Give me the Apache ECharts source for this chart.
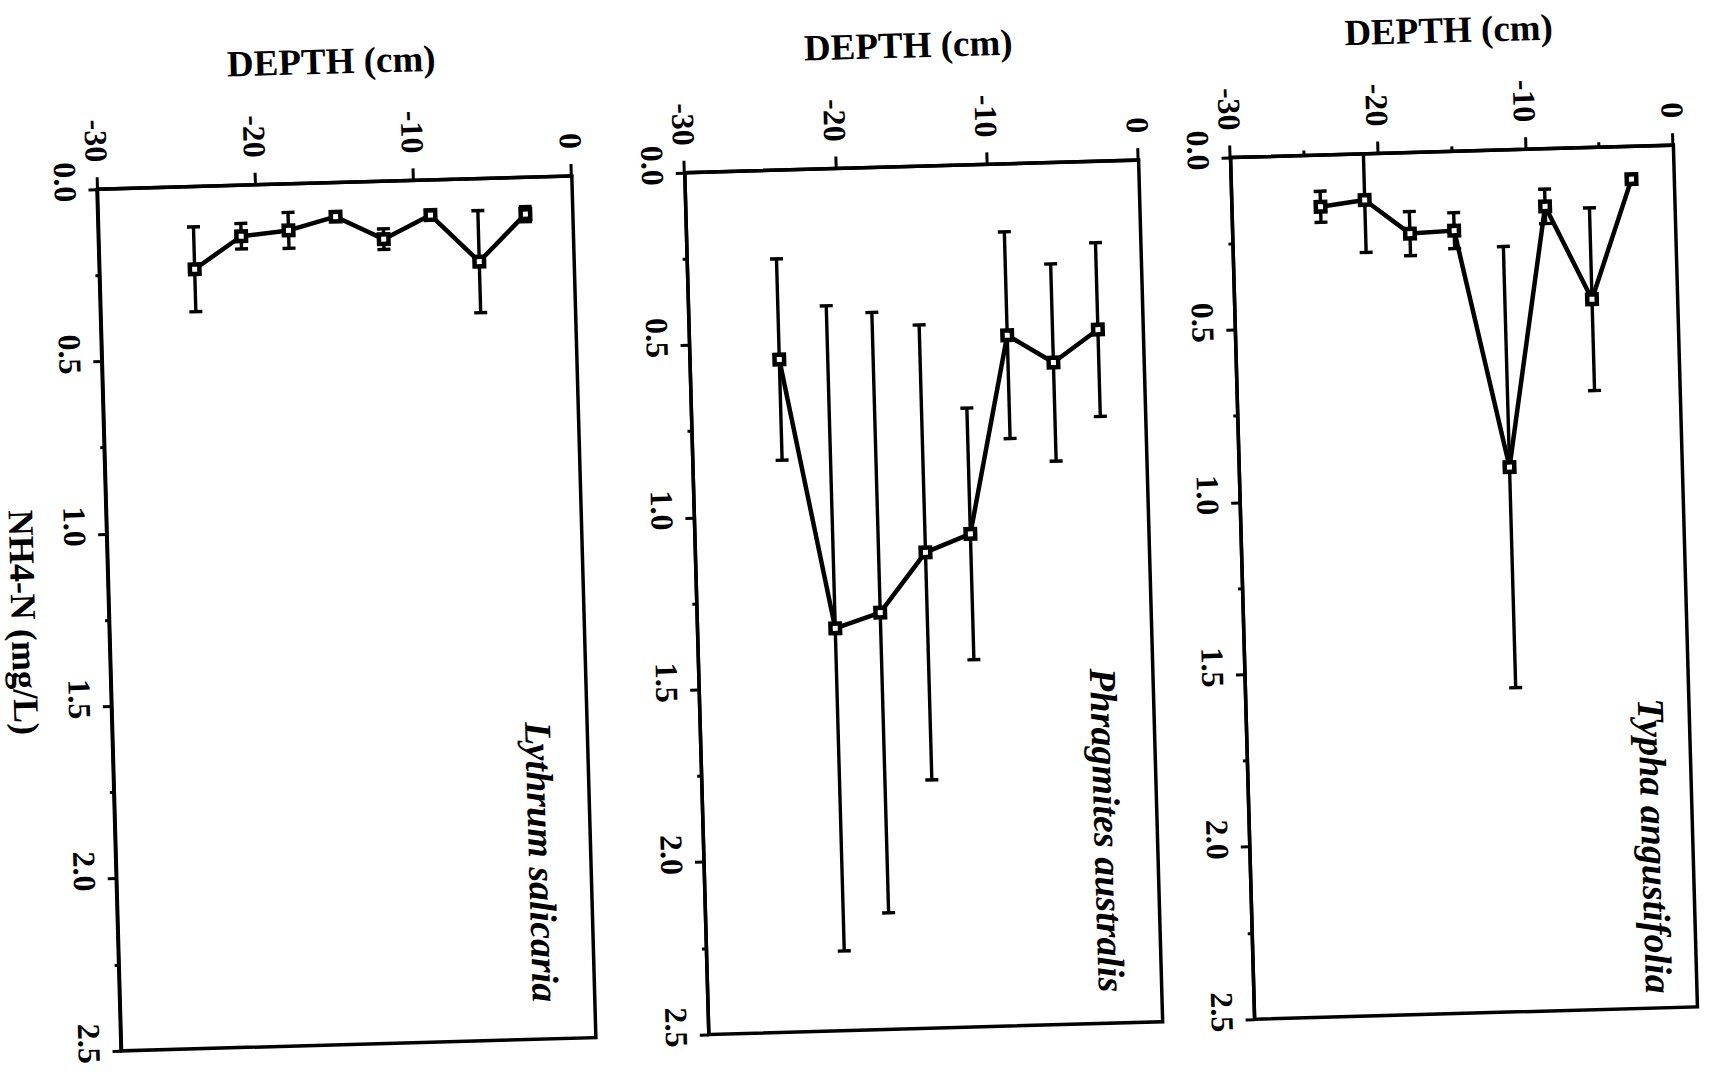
<!DOCTYPE html>
<html>
<head>
<meta charset="utf-8">
<script src="https://cdn.jsdelivr.net/npm/echarts@6/dist/echarts.min.js"></script>
<style>
  html, body { margin: 0; padding: 0; background: #fff; overflow: hidden; width: 1722px; height: 1074px; }
  #wrap { position: absolute; left: 324px; top: -324px; width: 1074px; height: 1722px; transform: rotate(88.4deg); transform-origin: 50% 50%; }
  #chart { width: 1074px; height: 1722px; }
</style>
</head>
<body>
<div id="wrap"><div id="chart"></div></div>
<script>
// ---- data (depth in cm, NH4-N in mg/L, error = half bar length) ----
const species = ['Typha angustifolia', 'Phragmites australis', 'Lythrum salicaria'];

const depthTypha = [-24, -21, -18, -15, -11.7, -8.8, -5.8, -2.9];
const nh4Typha   = [0.15, 0.134, 0.235, 0.23, 0.92, 0.167, 0.44, 0.095];
const errTypha   = [0.045, 0.152, 0.064, 0.052, 0.64, 0.05, 0.265, 0.012];

const depthPhrag = [-24.1, -20.9, -17.9, -14.8, -11.8, -9.0, -6.0, -3.0];
const nh4Phrag   = [0.549, 1.333, 1.291, 1.12, 1.07, 0.497, 0.58, 0.488];
const errPhrag   = [0.292, 0.936, 0.871, 0.66, 0.365, 0.30, 0.286, 0.252];

const depthLyth  = [-24, -21, -18, -15, -12, -9, -6, -3];
const nh4Lyth    = [0.24, 0.148, 0.135, 0.099, 0.168, 0.102, 0.241, 0.107];
const errLyth    = [0.123, 0.037, 0.052, 0.005, 0.03, 0.005, 0.148, 0.022];

const depthTicks = [-30, -20, -10, 0];
const nh4Ticks   = ['0.0', '0.5', '1.0', '1.5', '2.0', '2.5'];

const depthTitle = 'DEPTH (cm)';
const nh4Title   = 'NH4-N (mg/L)';

// ---- layout (chart is drawn upright, then the page is turned) ----
const FONT = '"Liberation Serif", "Times New Roman", serif';
const panels = [
  { depth: depthTypha, nh4: nh4Typha, err: errTypha, top: 38,   height: 443,   minorDepth: true,  nameX: 868, nameY: 76 },
  { depth: depthPhrag, nh4: nh4Phrag, err: errPhrag, top: 573,  height: 454,   minorDepth: false, nameX: 837, nameY: 623 },
  { depth: depthLyth,  nh4: nh4Lyth,  err: errLyth,  top: 1140, height: 474.5, minorDepth: false, nameX: 853, nameY: 1189 }
];

const grids = [], xAxes = [], yAxes = [], series = [], graphics = [];

function renderErr(params, api) {
  const v = api.value(0), d = api.value(1), e = api.value(2);
  const lo = Math.max(0, v - e), hi = v + e;
  const p1 = api.coord([lo, d]);
  const p2 = api.coord([hi, d]);
  const st = { stroke: '#000', lineWidth: 3.4 };
  const capH = 6.5;
  const children = [{ type: 'line', shape: { x1: p1[0], y1: p1[1], x2: p2[0], y2: p2[1] }, style: st }];
  if (v - e >= 0) children.push({ type: 'line', shape: { x1: p1[0], y1: p1[1] - capH, x2: p1[0], y2: p1[1] + capH }, style: st });
  children.push({ type: 'line', shape: { x1: p2[0], y1: p2[1] - capH, x2: p2[0], y2: p2[1] + capH }, style: st });
  return { type: 'group', children: children };
}

panels.forEach(function (p, i) {
  grids.push({ left: 168, width: 862, top: p.top, height: p.height, show: true,
               borderColor: '#000', borderWidth: 3.5, backgroundColor: 'transparent', containLabel: false });
  const isLast = i === panels.length - 1;
  xAxes.push({
    gridIndex: i, type: 'value', min: 0, max: 2.5, interval: 0.5, position: 'bottom',
    axisLine: { show: true, onZero: false, lineStyle: { color: '#000', width: 3.5 } },
    axisTick: { show: true, inside: false, length: 9, lineStyle: { color: '#000', width: 3 } },
    minorTick: { show: true, splitNumber: 2, length: 4.5, lineStyle: { color: '#000', width: 3 } },
    splitLine: { show: false }, minorSplitLine: { show: false },
    axisLabel: { show: true, margin: 16, color: '#000', fontFamily: FONT, fontWeight: 'bold', fontSize: 32,
                 padding: [0, 16, 0, 0],
                 formatter: function (v) { const k = Math.round(v / 0.5); return nh4Ticks[k] !== undefined ? nh4Ticks[k] : v.toFixed(1); } },
    name: isLast ? nh4Title : '', nameLocation: 'middle', nameGap: 68,
    nameTextStyle: { color: '#000', fontFamily: FONT, fontWeight: 'bold', fontSize: 36 }
  });
  yAxes.push({
    gridIndex: i, type: 'value', min: depthTicks[0], max: depthTicks[depthTicks.length - 1], interval: 10, position: 'left',
    axisLine: { show: true, onZero: false, lineStyle: { color: '#000', width: 3.5 } },
    axisTick: { show: true, inside: false, length: 12, lineStyle: { color: '#000', width: 3 } },
    minorTick: { show: p.minorDepth, splitNumber: 2, length: 5, lineStyle: { color: '#000', width: 3 } },
    splitLine: { show: false }, minorSplitLine: { show: false },
    axisLabel: { show: true, margin: 27, color: '#000', fontFamily: FONT, fontWeight: 'bold', fontSize: 32,
                 padding: [21, 0, 0, 0] },
    name: depthTitle, nameLocation: 'middle', nameGap: 103,
    nameTextStyle: { color: '#000', fontFamily: FONT, fontWeight: 'bold', fontSize: 37 }
  });
  const errData = p.depth.map(function (d, k) { return [p.nh4[k], d, p.err[k]]; });
  series.push({
    type: 'custom', xAxisIndex: i, yAxisIndex: i, renderItem: renderErr, data: errData,
    encode: { x: 0, y: 1 }, z: 2, silent: true, clip: true
  });
  series.push({
    type: 'line', xAxisIndex: i, yAxisIndex: i, z: 3,
    data: p.depth.map(function (d, k) { return [p.nh4[k], d]; }),
    symbol: 'rect', symbolSize: 9.5, showSymbol: true,
    itemStyle: { color: '#fff', borderColor: '#000', borderWidth: 4.5 },
    lineStyle: { color: '#000', width: 4.5 },
    animation: false
  });
  graphics.push({
    type: 'text', x: p.nameX, y: p.nameY, z: 10,
    style: { text: species[i], fill: '#000', font: 'italic bold 38px ' + FONT, textAlign: 'center', textVerticalAlign: 'middle' }
  });
});

const chart = echarts.init(document.getElementById('chart'), null, { renderer: 'svg' });
chart.setOption({
  animation: false,
  backgroundColor: '#fff',
  grid: grids,
  xAxis: xAxes,
  yAxis: yAxes,
  series: series,
  graphic: graphics
});
</script>
</body>
</html>
